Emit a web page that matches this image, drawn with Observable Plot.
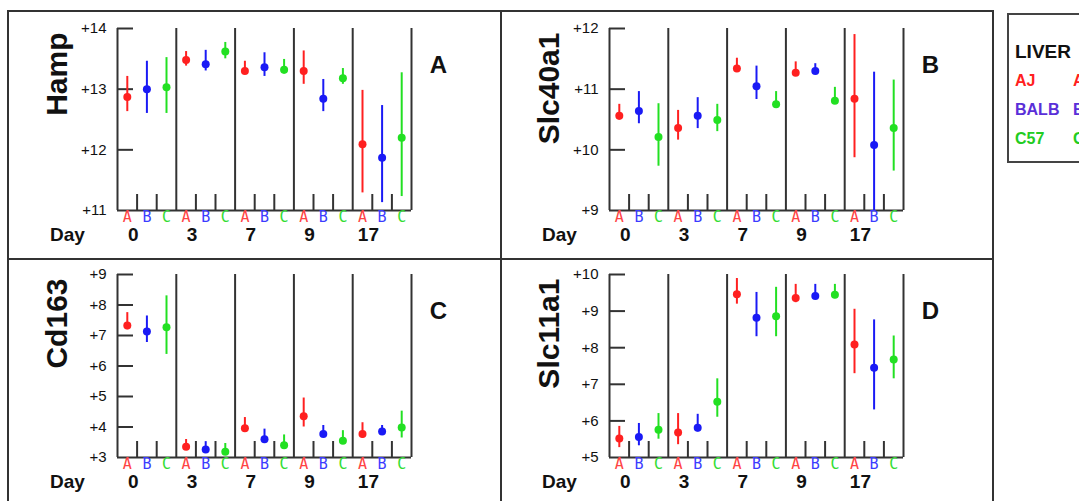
<!DOCTYPE html>
<html>
<head>
<meta charset="utf-8">
<script src="https://cdn.jsdelivr.net/npm/d3@7"></script>
<script src="https://cdn.jsdelivr.net/npm/@observablehq/plot@0.6"></script>
<style>
  body { margin: 0; background: white; }
  #wrap { position: relative; width: 1079px; height: 501px; overflow: hidden; background: white; font-family: "Liberation Sans", Arial, sans-serif; }
  .pan { position: absolute; }
  .line { position: absolute; background: #333; }
  #legend { position: absolute; left: 1007px; top: 13px; width: 120px; height: 150px; border: 2px solid #444; box-sizing: border-box; background: white; font-weight: bold; }
  #legend div { position: absolute; white-space: nowrap; }
</style>
</head>
<body>
<div id="wrap">
  <div class="pan" id="pA" style="left:8px;top:10px;width:492px;height:248px"></div>
  <div class="pan" id="pB" style="left:501px;top:10px;width:492px;height:248px"></div>
  <div class="pan" id="pC" style="left:8px;top:259px;width:492px;height:242px"></div>
  <div class="pan" id="pD" style="left:501px;top:259px;width:492px;height:242px"></div>
  <div class="line" style="left:7px;top:10px;width:2px;height:491px"></div>
  <div class="line" style="left:7px;top:10px;width:987px;height:2px"></div>
  <div class="line" style="left:992px;top:10px;width:2px;height:491px"></div>
  <div class="line" style="left:500px;top:10px;width:2px;height:491px"></div>
  <div class="line" style="left:7px;top:258px;width:987px;height:2px"></div>
  <div id="legend"></div>
</div>
<script>
// ---- data ----
const days = ["0", "3", "7", "9", "17"];
const strains = ["A", "B", "C"];
const strainNames = ["AJ", "BALB", "C57"];
const legendTitle = "LIVER";

const hampMean = [12.87, 13.00, 13.03, 13.48, 13.41, 13.62, 13.30, 13.36, 13.32, 13.30, 12.84, 13.18, 12.09, 11.87, 12.20];
const hampLo   = [12.63, 12.60, 12.60, 13.38, 13.30, 13.50, 13.25, 13.21, 13.25, 13.08, 12.63, 13.08, 11.29, 11.13, 11.23];
const hampHi   = [13.21, 13.46, 13.52, 13.62, 13.64, 13.77, 13.46, 13.60, 13.49, 13.63, 13.16, 13.34, 12.98, 12.73, 13.27];
const hampTicks = [11, 12, 13, 14];

const slc40Mean = [10.56, 10.64, 10.21, 10.36, 10.56, 10.49, 11.34, 11.05, 10.75, 11.27, 11.30, 10.81, 10.84, 10.08, 10.36];
const slc40Lo   = [10.49, 10.43, 9.73, 10.16, 10.35, 10.30, 11.28, 10.83, 10.70, 11.21, 11.25, 10.75, 9.87, 9.00, 9.65];
const slc40Hi   = [10.75, 10.96, 10.76, 10.65, 10.86, 10.75, 11.51, 11.38, 10.96, 11.45, 11.42, 11.03, 11.90, 11.28, 11.15];
const slc40Ticks = [9, 10, 11, 12];

const cd163Mean = [7.33, 7.13, 7.27, 3.35, 3.26, 3.19, 3.96, 3.60, 3.40, 4.35, 3.77, 3.55, 3.77, 3.85, 3.98];
const cd163Lo   = [7.19, 6.77, 6.38, 3.24, 3.19, 3.08, 3.85, 3.46, 3.30, 4.00, 3.67, 3.43, 3.63, 3.74, 3.64];
const cd163Hi   = [7.75, 7.64, 8.30, 3.59, 3.52, 3.46, 4.31, 3.93, 3.74, 4.95, 4.05, 3.88, 4.14, 4.05, 4.52];
const cd163Ticks = [3, 4, 5, 6, 7, 8, 9];

const slc11Mean = [5.52, 5.56, 5.76, 5.68, 5.81, 6.52, 9.46, 8.82, 8.86, 9.36, 9.41, 9.45, 8.09, 7.45, 7.68];
const slc11Lo   = [5.27, 5.32, 5.50, 5.35, 5.70, 6.10, 9.19, 8.30, 8.30, 9.23, 9.32, 9.34, 7.29, 6.30, 7.15];
const slc11Hi   = [5.85, 5.93, 6.20, 6.20, 6.18, 7.15, 9.89, 9.51, 9.65, 9.73, 9.73, 9.73, 9.05, 8.76, 8.32];
const slc11Ticks = [5, 6, 7, 8, 9, 10];

const pointColors = ["#ff2020", "#1a1af5", "#22e022"];
const labelColors = ["#ff4444", "#3b3bff", "#33dd33"];
const legendColors = ["#ff2020", "#5a2fd8", "#22cc22"];

// ---- drawing ----
function panel(el, {mean, lo, hi, ticks, gene, letter, width, height, mt, mb, ml, mr}) {
  const n = days.length * strains.length;
  const rows = mean.map((m, i) => ({i, m, lo: lo[i], hi: hi[i], strain: strains[i % 3]}));
  const ymin = d3.min(ticks), ymax = d3.max(ticks);
  const ph = height - mt - mb, pw = width - ml - mr;
  const slot = pw / n;
  const dividers = days.map((d, k) => 3 * k + 2.5);
  const minor = days.flatMap((d, k) => [3 * k + 0.5, 3 * k + 1.5]);
  const minorLen = (ymax - ymin) * 16 / ph;
  const tickLen = 16 / slot;
  const chart = Plot.plot({
    width, height, marginTop: mt, marginBottom: mb, marginLeft: ml, marginRight: mr,
    style: {fontFamily: '"Liberation Sans", Arial, sans-serif', fontSize: "15px", color: "#222", background: "white"},
    x: {domain: [-0.5, n - 0.5], axis: null},
    y: {domain: [ymin, ymax], axis: null},
    color: {domain: strains, range: pointColors},
    marks: [
      Plot.text(ticks, {y: d => d, text: d => "+" + d, frameAnchor: "left", textAnchor: "end", dx: -11, fontSize: 15, fill: "#111"}),
      Plot.ruleX([-0.5], {stroke: "#333", strokeWidth: 2}),
      Plot.ruleX(dividers, {x: d => d, stroke: "#333", strokeWidth: 2}),
      Plot.ruleX(minor, {x: d => d, y1: ymin, y2: ymin + minorLen, stroke: "#333", strokeWidth: 2}),
      Plot.ruleY(ticks.filter(t => t !== ymin), {y: d => d, x1: -0.5, x2: -0.5 + tickLen, stroke: "#333", strokeWidth: 2}),
      Plot.ruleY([ymin], {stroke: "#333", strokeWidth: 2}),
      Plot.ruleX(rows, {x: "i", y1: "lo", y2: "hi", stroke: "strain", strokeWidth: 2}),
      Plot.dot(rows, {x: "i", y: "m", fill: "strain", r: 4}),
      Plot.text(rows, {x: "i", text: "strain", fill: d => labelColors[strains.indexOf(d.strain)], frameAnchor: "bottom", dy: 11, fontSize: 15, fontFamily: '"DejaVu Sans Mono", monospace'}),
      Plot.text(days, {x: (d, k) => 3 * k + 0.3, text: d => d, frameAnchor: "bottom", dy: 30, fontSize: 19, fontWeight: "bold", fill: "#111"}),
      Plot.text(["Day"], {frameAnchor: "bottom-left", textAnchor: "middle", dx: -50, dy: 30, fontSize: 19, fontWeight: "bold", fill: "#111"}),
      Plot.text([gene], {frameAnchor: "top-left", dx: -72, dy: 4, rotate: -90, textAnchor: "end", fontSize: 30, fontWeight: "bold", fill: "#111"}),
      Plot.text([letter], {frameAnchor: "top-right", textAnchor: "middle", dx: 27, dy: 27, fontSize: 24, fontWeight: "bold", fill: "#111"})
    ]
  });
  el.appendChild(chart);
}

panel(document.getElementById("pA"), {mean: hampMean, lo: hampLo, hi: hampHi, ticks: hampTicks, gene: "Hamp", letter: "A", width: 492, height: 248, mt: 18, mb: 48, ml: 109, mr: 89});
panel(document.getElementById("pB"), {mean: slc40Mean, lo: slc40Lo, hi: slc40Hi, ticks: slc40Ticks, gene: "Slc40a1", letter: "B", width: 492, height: 248, mt: 18, mb: 48, ml: 108, mr: 90});
panel(document.getElementById("pC"), {mean: cd163Mean, lo: cd163Lo, hi: cd163Hi, ticks: cd163Ticks, gene: "Cd163", letter: "C", width: 492, height: 242, mt: 15, mb: 44, ml: 109, mr: 89});
panel(document.getElementById("pD"), {mean: slc11Mean, lo: slc11Lo, hi: slc11Hi, ticks: slc11Ticks, gene: "Slc11a1", letter: "D", width: 492, height: 242, mt: 15, mb: 44, ml: 108, mr: 90});

// legend
const lg = document.getElementById("legend");
const t = document.createElement("div");
t.textContent = legendTitle;
t.style.cssText = "left:6px;top:26px;font-size:19px;color:#111";
lg.appendChild(t);
strainNames.forEach((name, k) => {
  const a = document.createElement("div");
  a.textContent = name;
  a.style.cssText = `left:6px;top:${57 + k * 29}px;font-size:16px;color:${legendColors[k]}`;
  lg.appendChild(a);
  const b = document.createElement("div");
  b.textContent = strains[k];
  b.style.cssText = `left:64px;top:${57 + k * 29}px;font-size:16px;color:${legendColors[k]}`;
  lg.appendChild(b);
});
</script>
</body>
</html>
